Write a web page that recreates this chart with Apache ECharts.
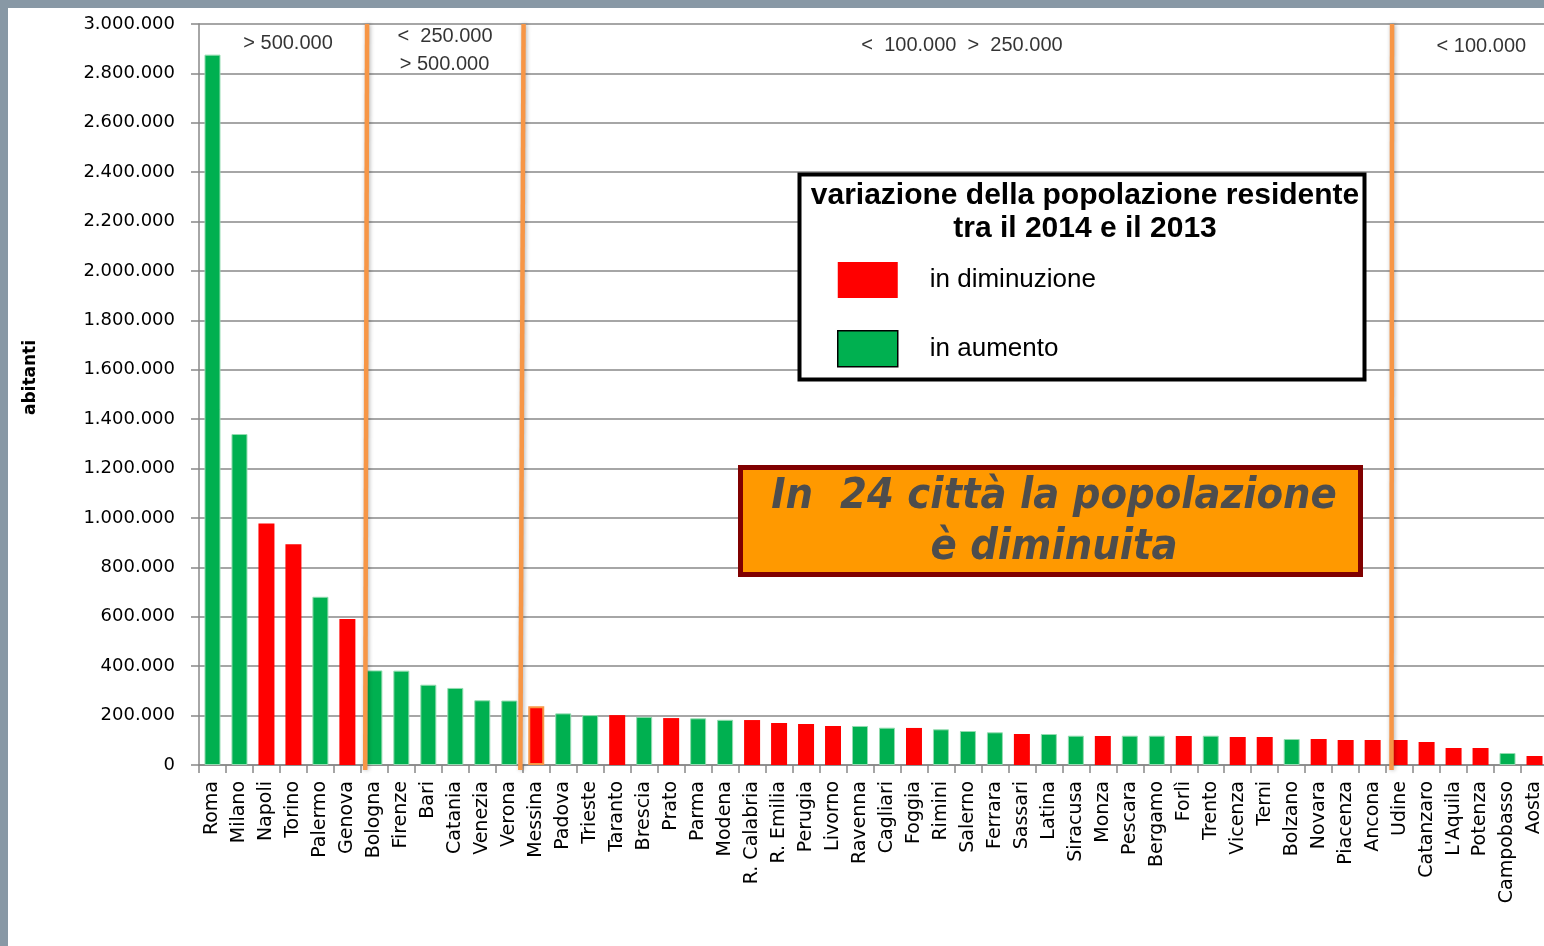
<!DOCTYPE html>
<html>
<head>
<meta charset="utf-8">
<script src="https://cdn.jsdelivr.net/npm/echarts@6/dist/echarts.min.js"></script>
<style>
  html, body { margin: 0; padding: 0; background: #ffffff; overflow: hidden; }
  #chart { width: 1560px; height: 946px; }
</style>
</head>
<body>
<div id="chart"></div>
<script>
// ---- DATA ----
const categories = ['Roma','Milano','Napoli','Torino','Palermo','Genova','Bologna','Firenze','Bari','Catania',
  'Venezia','Verona','Messina','Padova','Trieste','Taranto','Brescia','Prato','Parma','Modena',
  'R. Calabria','R. Emilia','Perugia','Livorno','Ravenna','Cagliari','Foggia','Rimini','Salerno','Ferrara',
  'Sassari','Latina','Siracusa','Monza','Pescara','Bergamo','Forlì','Trento','Vicenza','Terni',
  'Bolzano','Novara','Piacenza','Ancona','Udine','Catanzaro',"L'Aquila",'Potenza','Campobasso','Aosta'];
const population = [2876000,1340000,978000,894000,681000,591000,383000,382000,325000,312000,
  262000,261000,238000,209000,202000,202000,195000,190000,189000,183000,
  182000,170000,166000,158000,158000,151000,150000,144500,137700,132400,
  125500,125500,118600,117400,118600,118600,117400,118600,113400,113400,
  105300,105300,101200,101200,101200,93100,68800,68800,48600,36400];
// '+' = in aumento, '-' = in diminuzione
const trend = ['+','+','-','-','+','-','+','+','+','+',
  '+','+','-','+','+','-','+','-','+','+',
  '-','-','-','-','+','+','-','+','+','+',
  '-','+','+','-','+','+','-','+','-','-',
  '+','-','-','-','-','-','-','-','+','-'];
const highlightedCities = ['Messina'];
const seriesNames = ['in diminuzione', 'in aumento'];
const legendTitle = ['variazione della popolazione residente', 'tra il 2014 e il 2013'];
const noteLines = ['In  24 città la popolazione', 'è diminuita'];
const yMax = 3000000, yStep = 200000;
// size-class labels: [position in category units, value height, text]
const bandLabels = [
  [3.30, 2923000, '> 500.000'],
  [9.12, 2951000, '<  250.000'],
  [9.10, 2838000, '> 500.000'],
  [28.28, 2915000, '<  100.000  >  250.000'],
  [47.53, 2907000, '< 100.000']
];
// divider lines between size classes: [top position, bottom position] in category units
const dividers = [[6.23, 6.16], [12.03, 11.91], [44.22, 44.20]];

// ---- CHART ----
const fmt = v => String(v).replace(/\B(?=(\d{3})+(?!\d))/g, '.');
const RED = '#FF0000', GREEN = '#00B050', ORANGE = '#F79646';

const redData = population.map((v, i) => {
  if (trend[i] !== '-') return '-';
  if (highlightedCities.includes(categories[i])) {
    return { value: v, itemStyle: { borderColor: ORANGE, borderWidth: 2 } };
  }
  return v;
});
const greenData = population.map((v, i) => trend[i] === '+' ? v : '-');

const dividerSeries = dividers.map((d, k) => ({
  name: 'divisore' + k, type: 'line', xAxisIndex: 1, yAxisIndex: 0,
  data: [[d[0], yMax], [d[1], -20000]],
  showSymbol: false, symbol: 'none', clip: false, silent: true, z: 7,
  lineStyle: { color: ORANGE, width: 4.5, type: 'solid', shadowBlur: 4, shadowColor: 'rgba(0,0,0,0.3)', shadowOffsetX: 1 }
}));

const chart = echarts.init(document.getElementById('chart'), null, { renderer: 'canvas' });
const font = 'DejaVu Sans';
chart.setOption({
  animation: false,
  backgroundColor: '#ffffff',
  grid: { left: 199, top: 24, width: 1349, height: 741, containLabel: false },
  xAxis: [{
    type: 'category',
    data: categories,
    axisLine: { show: true, lineStyle: { color: '#888888', width: 1.5 } },
    axisTick: { show: true, length: 8, lineStyle: { color: '#888888', width: 1.5 } },
    axisLabel: { interval: 0, rotate: 90, margin: 16, color: '#000', fontFamily: font, fontSize: 19 },
    splitLine: { show: false }
  }, {
    type: 'value', min: 0, max: categories.length, show: false
  }],
  yAxis: {
    type: 'value', min: 0, max: yMax, interval: yStep,
    name: 'abitanti', nameLocation: 'middle', nameGap: 160, nameRotate: 90,
    nameTextStyle: { fontFamily: font, fontWeight: 'bold', fontSize: 17, color: '#000', padding: [0, 0, 0, 34] },
    axisLine: { show: true, lineStyle: { color: '#888888', width: 1.5 } },
    axisTick: { show: true, length: 8, lineStyle: { color: '#888888', width: 1.5 } },
    axisLabel: { formatter: fmt, margin: 24, color: '#000', fontFamily: font, fontSize: 18 },
    splitLine: { show: true, lineStyle: { color: '#888888', width: 1.5 } }
  },
  legend: {
    data: [
      { name: seriesNames[0], icon: 'rect', itemStyle: { color: RED, borderWidth: 0 } },
      { name: seriesNames[1], icon: 'rect', itemStyle: { color: GREEN, borderColor: '#000', borderWidth: 1.5 } }
    ],
    orient: 'vertical', left: 832, top: 257,
    itemWidth: 60, itemHeight: 36, itemGap: 32,
    selectedMode: false, z: 10,
    textStyle: { fontFamily: 'Liberation Sans', fontSize: 26, color: '#000', padding: [0, 0, 0, 27] }
  },
  graphic: [
    { type: 'rect', z: 100, shape: { x: 0, y: 0, width: 1560, height: 8 }, style: { fill: '#8898a5' } },
    { type: 'rect', z: 100, shape: { x: 0, y: 0, width: 8, height: 946 }, style: { fill: '#8898a5' } },
    { type: 'rect', z: 5, shape: { x: 799.5, y: 174.5, width: 565, height: 205 },
      style: { fill: '#ffffff', stroke: '#000000', lineWidth: 4 } },
    { type: 'text', z: 11, x: 1085, y: 196,
      style: { text: legendTitle[0], font: 'bold 30px "Liberation Sans"', fill: '#000', align: 'center', verticalAlign: 'middle' } },
    { type: 'text', z: 11, x: 1085, y: 229,
      style: { text: legendTitle[1], font: 'bold 30px "Liberation Sans"', fill: '#000', align: 'center', verticalAlign: 'middle' } },
    { type: 'rect', z: 5, shape: { x: 740.5, y: 467.5, width: 620, height: 107 },
      style: { fill: '#FF9900', stroke: '#800000', lineWidth: 5 } },
    { type: 'text', z: 11, x: 1054, y: 497,
      style: { text: noteLines[0], font: 'italic bold 43px "DejaVu Sans Condensed", "DejaVu Sans"', fill: '#4D4D4D', align: 'center', verticalAlign: 'middle' } },
    { type: 'text', z: 11, x: 1054, y: 548,
      style: { text: noteLines[1], font: 'italic bold 43px "DejaVu Sans Condensed", "DejaVu Sans"', fill: '#4D4D4D', align: 'center', verticalAlign: 'middle' } }
  ],
  series: [
    {
      name: seriesNames[0], type: 'bar', data: redData, barWidth: 16, barGap: '-100%',
      itemStyle: { color: RED }
    },
    {
      name: seriesNames[1], type: 'bar', data: greenData, barWidth: 16, barGap: '-100%',
      itemStyle: { color: GREEN, borderColor: '#93dcb0', borderWidth: 1 }
    },
    {
      name: 'classi', type: 'scatter', xAxisIndex: 1, yAxisIndex: 0,
      data: bandLabels, symbolSize: 1, itemStyle: { color: 'rgba(0,0,0,0)' }, silent: true,
      label: { show: true, position: 'inside', formatter: p => p.value[2],
        fontFamily: 'Liberation Sans', fontSize: 20, color: '#000' },
      z: 6
    }
  ].concat(dividerSeries)
});
</script>
</body>
</html>
